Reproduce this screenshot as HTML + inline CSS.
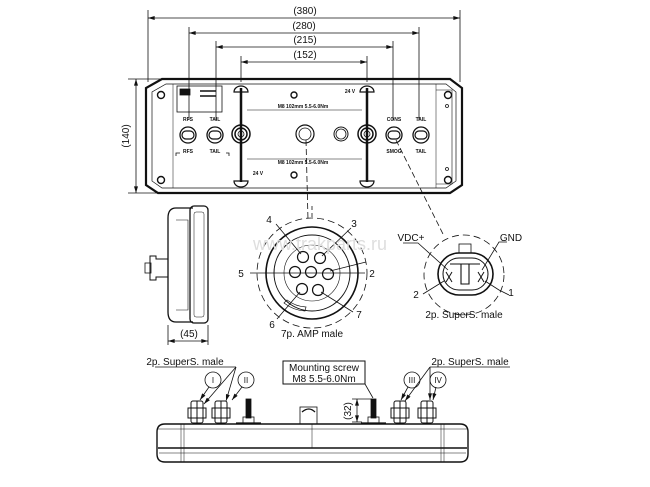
<!DOCTYPE html>
<html><head><meta charset="utf-8"><style>
html,body{margin:0;padding:0;background:#fff;}
svg{display:block;}
text{font-family:"Liberation Sans",sans-serif;fill:#111;}
</style></head><body>
<svg width="650" height="487" viewBox="0 0 650 487" xmlns="http://www.w3.org/2000/svg">
<defs>
<marker id="a" viewBox="0 0 10 6" refX="10" refY="3" markerWidth="9" markerHeight="5" orient="auto-start-reverse"><path d="M0,0 L10,3 L0,6z" fill="#111"/></marker>
</defs>
<g stroke="#111" fill="none" stroke-width="0.8">
<line x1="148" y1="10" x2="148" y2="82"/><line x1="460" y1="10" x2="460" y2="82"/>
<line x1="148" y1="18" x2="460" y2="18" marker-start="url(#a)" marker-end="url(#a)"/>
<line x1="189" y1="27" x2="189" y2="120"/><line x1="419" y1="27" x2="419" y2="120"/>
<line x1="189" y1="33" x2="419" y2="33" marker-start="url(#a)" marker-end="url(#a)"/>
<line x1="216" y1="41" x2="216" y2="120"/><line x1="393" y1="41" x2="393" y2="120"/>
<line x1="216" y1="47" x2="393" y2="47" marker-start="url(#a)" marker-end="url(#a)"/>
<line x1="241" y1="56" x2="241" y2="82"/><line x1="367" y1="56" x2="367" y2="82"/>
<line x1="241" y1="62" x2="367" y2="62" marker-start="url(#a)" marker-end="url(#a)"/>
<line x1="128" y1="79" x2="175" y2="79"/><line x1="128" y1="193" x2="175" y2="193"/>
<line x1="136" y1="79" x2="136" y2="193" marker-start="url(#a)" marker-end="url(#a)"/>
<path d="M162,79 L450,79 L462,88 L462,185 L450,193 L158,193 L146,185 L146,88 Z" stroke-width="2.2"/>
<path d="M166,84 L446,84 L456,92 L456,181 L446,188 L162,188 L152,181 L152,92 Z" stroke-width="0.7"/>
<line x1="173" y1="84" x2="173" y2="188" stroke-width="0.5"/>
<line x1="436" y1="84" x2="436" y2="188" stroke-width="0.5"/>
<path d="M436,90 L452,90 L452,184 L436,184" stroke-width="0.6"/>
<circle cx="161" cy="95" r="3.5" stroke-width="1.4"/><circle cx="161" cy="180" r="3.5" stroke-width="1.4"/>
<circle cx="448" cy="95" r="3.5" stroke-width="1.4"/><circle cx="448" cy="180" r="3.5" stroke-width="1.4"/>
<circle cx="447" cy="106" r="1.5"/><circle cx="447" cy="169" r="1.5"/>
<rect x="177" y="86" width="45" height="26"/>
<rect x="180" y="89" width="10" height="6" fill="#111"/>
<line x1="200" y1="91" x2="216" y2="91" stroke-width="1.5"/><line x1="200" y1="96" x2="216" y2="96" stroke-width="1.5"/>
<line x1="241" y1="88" x2="241" y2="182" stroke-width="2.5"/>
<line x1="367" y1="88" x2="367" y2="182" stroke-width="2.5"/>
<path d="M234,92 A7,6 0 0 1 248,92 Z" stroke-width="1.2"/>
<path d="M234,181 A7,6 0 0 0 248,181 Z" stroke-width="1.2"/>
<path d="M360,92 A7,6 0 0 1 374,92 Z" stroke-width="1.2"/>
<path d="M360,181 A7,6 0 0 0 374,181 Z" stroke-width="1.2"/>
<circle cx="241" cy="134" r="9" stroke-width="1.5"/><circle cx="241" cy="134" r="6" stroke-width="1.5"/><circle cx="241" cy="134" r="3"/>
<circle cx="367" cy="134" r="9" stroke-width="1.5"/><circle cx="367" cy="134" r="6" stroke-width="1.5"/><circle cx="367" cy="134" r="3"/>
<line x1="247" y1="110" x2="362" y2="110" stroke-width="0.6"/>
<line x1="247" y1="159" x2="362" y2="159" stroke-width="0.6"/>
<circle cx="294" cy="95" r="3" stroke-width="1.4"/><circle cx="294" cy="175" r="3" stroke-width="1.4"/>
<circle cx="188" cy="135" r="8" stroke-width="1.3"/><rect x="182" y="131" width="12" height="8" rx="4" stroke-width="1.2"/>
<circle cx="215" cy="135" r="8" stroke-width="1.3"/><rect x="209" y="131" width="12" height="8" rx="4" stroke-width="1.2"/>
<circle cx="394" cy="135" r="8" stroke-width="1.3"/><rect x="388" y="131" width="12" height="8" rx="4" stroke-width="1.2"/>
<circle cx="421" cy="135" r="8" stroke-width="1.3"/><rect x="415" y="131" width="12" height="8" rx="4" stroke-width="1.2"/>
<path d="M176,156 L176,153 L180,153 M226,153 L229,153 L229,156"/>
<circle cx="305" cy="134" r="9" stroke-width="1.2"/><circle cx="305" cy="134" r="6"/>
<circle cx="341" cy="134" r="7" stroke-width="1"/><circle cx="341" cy="134" r="5"/>
<path d="M306,140 L308,220" stroke-dasharray="6,3"/>
<path d="M396,140 L444,236" stroke-dasharray="6,3"/>
<path d="M193,208 L176,208 Q168,208 168,218 L168,312 Q168,322 176,322 L193,322" stroke-width="1.3"/>
<rect x="190" y="206" width="18" height="117" rx="4" stroke-width="1.3"/>
<rect x="194" y="212" width="10" height="105" rx="2" stroke-width="0.5"/>
<path d="M176,220 L188,220 L188,310 L176,310" stroke-width="0.6"/>
<path d="M168,259 L156,259 L156,256 L150,256 L150,280 L156,280 L156,277 L168,277" stroke-width="1"/>
<rect x="145" y="263" width="6" height="10"/>
<line x1="168" y1="325" x2="168" y2="345"/><line x1="208" y1="325" x2="208" y2="345"/>
<line x1="168" y1="341" x2="208" y2="341" marker-start="url(#a)" marker-end="url(#a)"/>
<circle cx="312" cy="273" r="55" stroke-dasharray="7,4"/>
<circle cx="312" cy="273" r="46" stroke-width="1.6"/>
<circle cx="312" cy="273" r="38" stroke-width="1"/>
<circle cx="312" cy="273" r="28" stroke-width="0.6"/>
<g stroke-width="1.2">
<circle cx="303" cy="257" r="5.5"/><circle cx="320" cy="258" r="5.5"/><circle cx="295" cy="272" r="5.5"/>
<circle cx="311" cy="272" r="5.5"/><circle cx="328" cy="274" r="5.5"/><circle cx="302" cy="289" r="5.5"/><circle cx="318" cy="290" r="5.5"/>
</g>
<path d="M284,303 A38,38 0 0 0 305,311 L306,307 A34,34 0 0 1 287,300Z" stroke-width="0.7"/>
<line x1="250" y1="273" x2="365" y2="273"/>
<line x1="276" y1="224" x2="301" y2="254"/><line x1="351" y1="228" x2="322" y2="256"/>
<line x1="366" y1="262" x2="330" y2="271"/><line x1="353" y1="312" x2="321" y2="292"/>
<line x1="277" y1="319" x2="300" y2="292"/>
<line x1="312" y1="206" x2="312" y2="218" stroke-dasharray="4,3"/>
<circle cx="464" cy="275" r="40" stroke-dasharray="7,4"/>
<rect x="438" y="253" width="55" height="42" rx="21" stroke-width="1.6"/>
<rect x="443" y="258" width="45" height="32" rx="16" stroke-width="1"/>
<rect x="459" y="244" width="12" height="9"/>
<path d="M450,264 L480,264 M461,264 L461,284 L469,284 L469,264" stroke-width="1.1"/>
<path d="M403,243 L418,243 L448,270"/>
<path d="M507,242 L499,242 L482,270"/>
<path d="M446,272 L452,282 M452,272 L446,282 M478,272 L484,282 M484,272 L478,282" stroke-width="1"/>
<path d="M423,294 L444,281"/>
<path d="M509,295 L499,290 L485,281"/>
<path d="M165,424 L460,424 Q468,424 468,432 L468,454 Q468,462 460,462 L165,462 Q157,462 157,454 L157,432 Q157,424 165,424Z" stroke-width="1.4"/>
<line x1="157" y1="429" x2="468" y2="429" stroke-width="0.5"/>
<line x1="158" y1="448" x2="467" y2="448" stroke-width="1.5"/>
<line x1="159" y1="453" x2="466" y2="453" stroke-width="0.6"/>
<line x1="181" y1="424" x2="181" y2="462" stroke-width="0.5"/><line x1="184" y1="424" x2="184" y2="462" stroke-width="0.5"/>
<line x1="441" y1="424" x2="441" y2="462" stroke-width="0.5"/><line x1="444" y1="424" x2="444" y2="462" stroke-width="0.5"/>
<line x1="312" y1="424" x2="312" y2="448" stroke-width="0.5"/>
<g stroke-width="1">
<rect x="191" y="401" width="12" height="22" rx="2"/><rect x="188" y="408" width="18" height="10"/><line x1="197" y1="401" x2="197" y2="423"/>
<rect x="215" y="401" width="12" height="22" rx="2"/><rect x="212" y="408" width="18" height="10"/><line x1="221" y1="401" x2="221" y2="423"/>
<rect x="394" y="401" width="12" height="22" rx="2"/><rect x="391" y="408" width="18" height="10"/><line x1="400" y1="401" x2="400" y2="423"/>
<rect x="421" y="401" width="12" height="22" rx="2"/><rect x="418" y="408" width="18" height="10"/><line x1="427" y1="401" x2="427" y2="423"/>
</g>
<rect x="246" y="399" width="5" height="19" fill="#111"/><rect x="243" y="417" width="11" height="6"/><line x1="236" y1="423" x2="261" y2="423" stroke-width="1.2"/>
<rect x="371" y="399" width="5" height="19" fill="#111"/><rect x="368" y="417" width="11" height="6"/><line x1="361" y1="423" x2="386" y2="423" stroke-width="1.2"/>
<rect x="300" y="407" width="17" height="17"/><path d="M302,412 Q309,406 315,412" stroke-width="1.3"/>
<line x1="352" y1="399" x2="372" y2="399"/><line x1="352" y1="422" x2="362" y2="422"/>
<line x1="357" y1="399" x2="357" y2="422" marker-start="url(#a)" marker-end="url(#a)"/>
<rect x="283" y="361" width="82" height="23" stroke-width="1"/>
<line x1="365" y1="384" x2="373" y2="398"/>
<line x1="155" y1="367" x2="236" y2="367"/>
<line x1="236" y1="367" x2="204" y2="404" marker-end="url(#a)"/>
<line x1="236" y1="367" x2="226" y2="401" marker-end="url(#a)"/>
<circle cx="213" cy="380" r="8"/><line x1="209" y1="387" x2="200" y2="400" marker-end="url(#a)"/>
<circle cx="246" cy="380" r="8"/><line x1="242" y1="387" x2="232" y2="400" marker-end="url(#a)"/>
<line x1="430" y1="367" x2="510" y2="367"/>
<line x1="430" y1="367" x2="405" y2="401" marker-end="url(#a)"/>
<line x1="430" y1="367" x2="430" y2="400" marker-end="url(#a)"/>
<circle cx="412" cy="380" r="8"/><line x1="408" y1="387" x2="401" y2="400" marker-end="url(#a)"/>
<circle cx="438" cy="380" r="8"/><line x1="436" y1="387" x2="433" y2="400" marker-end="url(#a)"/>
</g>
<g font-size="10" text-anchor="middle">
<text x="305" y="14">(380)</text>
<text x="304" y="29">(280)</text>
<text x="305" y="43">(215)</text>
<text x="305" y="58">(152)</text>
<text x="189" y="337">(45)</text>
<text transform="translate(129,136) rotate(-90)">(140)</text>
<text transform="translate(351,411) rotate(-90)">(32)</text>
<text x="312" y="337">7p. AMP male</text>
<text x="464" y="318">2p. SuperS. male</text>
<text x="185" y="365">2p. SuperS. male</text>
<text x="470" y="365">2p. SuperS. male</text>
<text x="324" y="371">Mounting screw</text>
<text x="324" y="382">M8  5.5-6.0Nm</text>
<text x="269" y="223">4</text><text x="354" y="227">3</text>
<text x="241" y="277">5</text><text x="372" y="277">2</text>
<text x="272" y="328">6</text><text x="359" y="318">7</text>
<text x="411" y="241">VDC+</text><text x="511" y="241">GND</text>
<text x="416" y="298">2</text><text x="511" y="296">1</text>
</g>
<g font-size="8" text-anchor="middle" style="font-family:'Liberation Serif',serif">
<text x="213" y="383">I</text><text x="246" y="383">II</text><text x="412" y="383">III</text><text x="438" y="383">IV</text>
</g>
<g font-size="5" text-anchor="middle" font-weight="bold">
<text x="188" y="121">RFS</text><text x="215" y="121">TAIL</text>
<text x="188" y="153">RFS</text><text x="215" y="153">TAIL</text>
<text x="394" y="121">CONS</text><text x="421" y="121">TAIL</text>
<text x="394" y="153">SMOG</text><text x="421" y="153">TAIL</text>
<text x="303" y="108">M8 102mm 5.5-6.0Nm</text>
<text x="303" y="164">M8 102mm 5.5-6.0Nm</text>
<text x="350" y="93">24 V</text><text x="258" y="175">24 V</text>
</g>
<text x="320" y="250" font-size="18" style="fill:#dedede" text-anchor="middle">www.trakparts.ru</text>
</svg>
</body></html>
